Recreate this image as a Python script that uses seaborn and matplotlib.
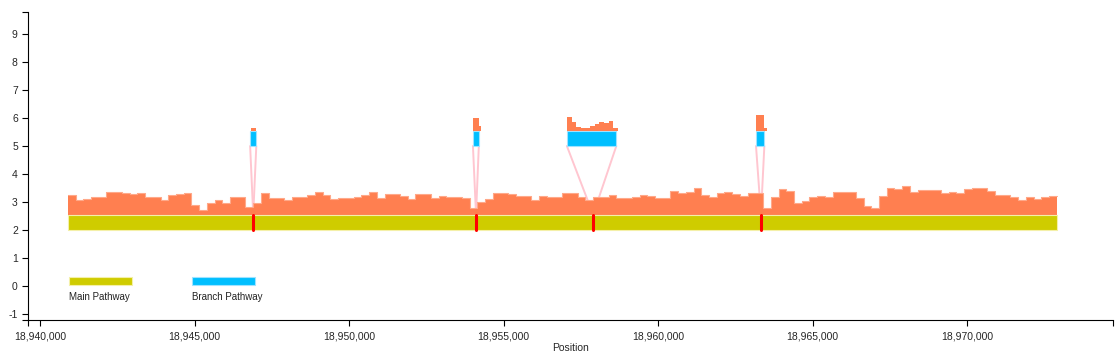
import numpy as np
import pandas as pd
import seaborn as sns
import matplotlib.pyplot as plt
from matplotlib.patches import Rectangle

# main pathway span and coverage (250 bp bins, top of coverage in axis units)
main_start = 18940900
main_end = 18972900
cov_bin = 250
main_cov = [3.25, 3.07, 3.10, 3.18, 3.18, 3.37, 3.37, 3.33, 3.28, 3.31,
            3.19, 3.19, 3.07, 3.25, 3.29, 3.33, 2.89, 2.71, 2.95, 3.07,
            2.95, 3.17, 3.19, 2.82, 2.96, 3.33, 3.13, 3.13, 3.07, 3.17,
            3.17, 3.25, 3.36, 3.25, 3.12, 3.13, 3.15, 3.19, 3.25, 3.37,
            3.13, 3.29, 3.29, 3.21, 3.10, 3.27, 3.27, 3.13, 3.21, 3.19,
            3.19, 3.13, 2.78, 3.01, 3.10, 3.33, 3.33, 3.29, 3.21, 3.21,
            3.07, 3.23, 3.17, 3.17, 3.33, 3.33, 3.19, 3.07, 3.19, 3.19,
            3.25, 3.13, 3.13, 3.19, 3.25, 3.21, 3.15, 3.15, 3.40, 3.31,
            3.37, 3.49, 3.25, 3.17, 3.33, 3.37, 3.29, 3.21, 3.33, 3.31,
            2.80, 3.19, 3.46, 3.40, 2.95, 3.05, 3.19, 3.22, 3.17, 3.35,
            3.35, 3.37, 3.13, 2.86, 2.78, 3.20, 3.49, 3.45, 3.58, 3.37,
            3.43, 3.43, 3.43, 3.33, 3.37, 3.31, 3.45, 3.49, 3.49, 3.40,
            3.25, 3.25, 3.19, 3.07, 3.17, 3.10, 3.17, 3.21]

# branch pathways
branch_start = [18946800, 18954010, 18957050, 18963170]
branch_end = [18947000, 18954200, 18958650, 18963440]
junction_pos = [18946900, 18954110, 18957900, 18963330]
branch_cov_edges = [
    [18946830, 18946990],
    [18954010, 18954190, 18954260],
    [18957050, 18957200, 18957350, 18957500, 18957650, 18957800, 18957950,
     18958100, 18958250, 18958400, 18958550, 18958700],
    [18963170, 18963420, 18963510],
]
branch_cov_vals = [
    [5.64],
    [5.99, 5.71],
    [6.03, 5.85, 5.68, 5.65, 5.65, 5.70, 5.80, 5.87, 5.81, 5.90, 5.65],
    [6.11, 5.63],
]

main_y = 2.0
branch_y = 5.0
bar_h = 0.55

x_ticks = [18940000, 18945000, 18950000, 18955000, 18960000, 18965000, 18970000]
y_ticks = list(range(-1, 10))

yellow = '#cfcc00'
coral = '#ff7f50'
blue = '#00bfff'

sns.set_style('ticks')
plt.rcParams['font.family'] = ['Liberation Sans', 'DejaVu Sans']
plt.rcParams['axes.unicode_minus'] = False

fig = plt.figure(figsize=(11.19, 3.54), dpi=100)
ax = fig.add_axes([28 / 1119, 1 - 320 / 354, 1085 / 1119, 308 / 354])

# pink connector lines from branch ends to junction on the main bar
for s, e, j in zip(branch_start, branch_end, junction_pos):
    ax.plot([s, j], [branch_y, main_y + bar_h], color='#ffc6d0', lw=1.4, zorder=1)
    ax.plot([e, j], [branch_y, main_y + bar_h], color='#ffc6d0', lw=1.4, zorder=1)

# main coverage
edges = main_start + cov_bin * np.arange(len(main_cov) + 1)
cov_df = pd.DataFrame({'pos': edges, 'cov': main_cov + [main_cov[-1]]})
ax.fill_between(cov_df['pos'], main_y + bar_h, cov_df['cov'], step='post',
                color=coral, lw=0, zorder=2)
sns.lineplot(data=cov_df, x='pos', y='cov', drawstyle='steps-post',
             color='#ffa98a', lw=0.8, ax=ax, zorder=2)

# main pathway bar
ax.broken_barh([(main_start, main_end - main_start)], (main_y, bar_h),
               facecolor=yellow, edgecolor='#f4f0a8', lw=0.8, zorder=3)

# junction markers
for j in junction_pos:
    ax.plot([j, j], [main_y, main_y + bar_h], color='#ff0000', lw=2.2, zorder=4)

# branch bars and coverage
for s, e, ed, vals in zip(branch_start, branch_end, branch_cov_edges, branch_cov_vals):
    ax.broken_barh([(s, e - s)], (branch_y, bar_h),
                   facecolor=blue, edgecolor='#9fe3ff', lw=0.8, zorder=3)
    ed = np.array(ed)
    yv = np.array(vals + [vals[-1]])
    ax.fill_between(ed, branch_y + bar_h, yv, step='post', color=coral, lw=0, zorder=3)

# legend drawn inside the plot area
leg = [('Main Pathway', yellow, '#f4f0a8', 0.0378), ('Branch Pathway', blue, '#9fe3ff', 0.1512)]
for label, fc, ec, x0 in leg:
    ax.add_patch(Rectangle((x0, 0.1136), 0.058, 0.027, transform=ax.transAxes,
                           facecolor=fc, edgecolor=ec, lw=0.8, clip_on=False))
    ax.text(x0, 0.075, label, transform=ax.transAxes, fontsize=7, va='center',
            ha='left', color='#222222')

ax.set_xlim(18939612, 18974722)
ax.set_ylim(-1.214, 9.786)
ax.set_xticks(x_ticks)
ax.set_xticklabels([f'{v:,}' for v in x_ticks])
ax.set_yticks(y_ticks)
ax.set_xticks([18939612, 18974722], minor=True)
ax.set_yticks([-1.214, 9.786], minor=True)
ax.tick_params(axis='both', which='both', direction='out', length=4.3, width=0.8,
               color='black', labelsize=7.5, pad=3, bottom=True, left=True)
ax.tick_params(axis='both', which='minor', labelleft=False, labelbottom=False)
ax.tick_params(axis='x', which='major', pad=4)
for side in ['top', 'right']:
    ax.spines[side].set_visible(False)
for side in ['left', 'bottom']:
    ax.spines[side].set_color('black')
    ax.spines[side].set_linewidth(0.8)
ax.set_xlabel('Position', fontsize=7.5, labelpad=1)
ax.set_ylabel('')
ax.set_facecolor('white')
fig.patch.set_facecolor('white')

fig.savefig('out.png', dpi=100)
